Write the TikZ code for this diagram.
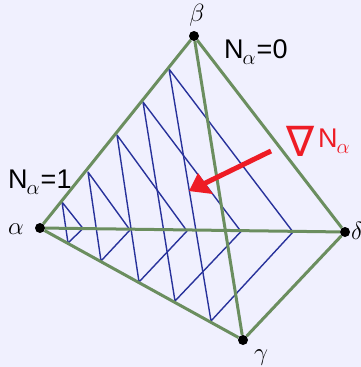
\documentclass[tikz,border=0pt]{standalone}
\usepackage{fontspec}
\setmainfont{Liberation Sans}
\newfontfamily\symf{DejaVu Sans}
\definecolor{bgc}{RGB}{240,240,254}
\definecolor{edgegreen}{RGB}{107,142,95}
\definecolor{wireblue}{RGB}{40,50,155}
\definecolor{arrowred}{RGB}{238,28,37}
\tikzset{
  vertexdot/.style={circle,fill=black,inner sep=0pt,minimum size=10pt},
  edgeline/.style={draw=edgegreen,line width=3pt},
  wire/.style={draw=wireblue,line width=1.4pt,line join=round},
  biglabel/.style={inner sep=0pt,font=\fontsize{27}{27}\selectfont,text=black},
  greeklabel/.style={inner sep=0pt,font=\fontsize{27}{27}\selectfont,text=black},
  redlabel/.style={inner sep=0pt,font=\fontsize{27}{27}\selectfont,text=arrowred},
}
\newcommand{\Nsub}{N\kern-1pt\raisebox{-6pt}{\fontsize{20}{20}\selectfont$\alpha$}}
\begin{document}
\begin{tikzpicture}[x=1pt,y=-1pt]
\path[use as bounding box,fill=bgc] (0,0) rectangle (361,367);
\coordinate (A1) at (62,202); \coordinate (A2) at (88,172); \coordinate (A3) at (117,135); \coordinate (A4) at (143,102); \coordinate (A5) at (169,69);
\coordinate (C1) at (68,243); \coordinate (C2) at (101,261); \coordinate (C3) at (139,282); \coordinate (C4) at (175,301); \coordinate (C5) at (211,321);
\coordinate (D1) at (83,228.5); \coordinate (D2) at (130,230); \coordinate (D3) at (187,231); \coordinate (D4) at (241,231.5); \coordinate (D5) at (293,232);
\foreach \i in {1,...,5} {\draw[wire] (A\i) -- (C\i) -- (D\i) -- cycle;}
\node[vertexdot] (alpha) at (40,228) {};
\node[vertexdot] (beta) at (194,36) {};
\node[vertexdot] (gamma) at (243,340) {};
\node[vertexdot] (delta) at (345,232) {};
\draw[edgeline] (alpha) -- (beta);
\draw[edgeline] (alpha) -- (gamma);
\draw[edgeline] (alpha) -- (delta);
\draw[edgeline] (beta) -- (gamma);
\draw[edgeline] (beta) -- (delta);
\draw[edgeline] (gamma) -- (delta);
\node[greeklabel] at (16,229) {$\alpha$};
\node[greeklabel] at (197,15) {$\beta$};
\node[greeklabel] at (261,358) {$\gamma$};
\node[greeklabel,anchor=west] at (351,231) {$\delta$};
\node[biglabel,anchor=west] at (8,182) {\Nsub\kern1pt=1};
\node[biglabel,anchor=west] at (224,52) {\Nsub\kern1pt=0};
\node[redlabel,anchor=west] at (318,141) {\Nsub};
\node[inner sep=0pt,text=arrowred,font=\symf\fontsize{42}{42}\selectfont] at (301,141) {∇};
\coordinate (arrowtail) at (271,151);
\coordinate (arrowhead) at (189,191);
\draw[draw=arrowred,line width=5pt,shorten >=14pt] (arrowtail) -- (arrowhead);
\fill[arrowred] (arrowhead) -- (198,173) -- (213,194) -- cycle;
\end{tikzpicture}
\end{document}
